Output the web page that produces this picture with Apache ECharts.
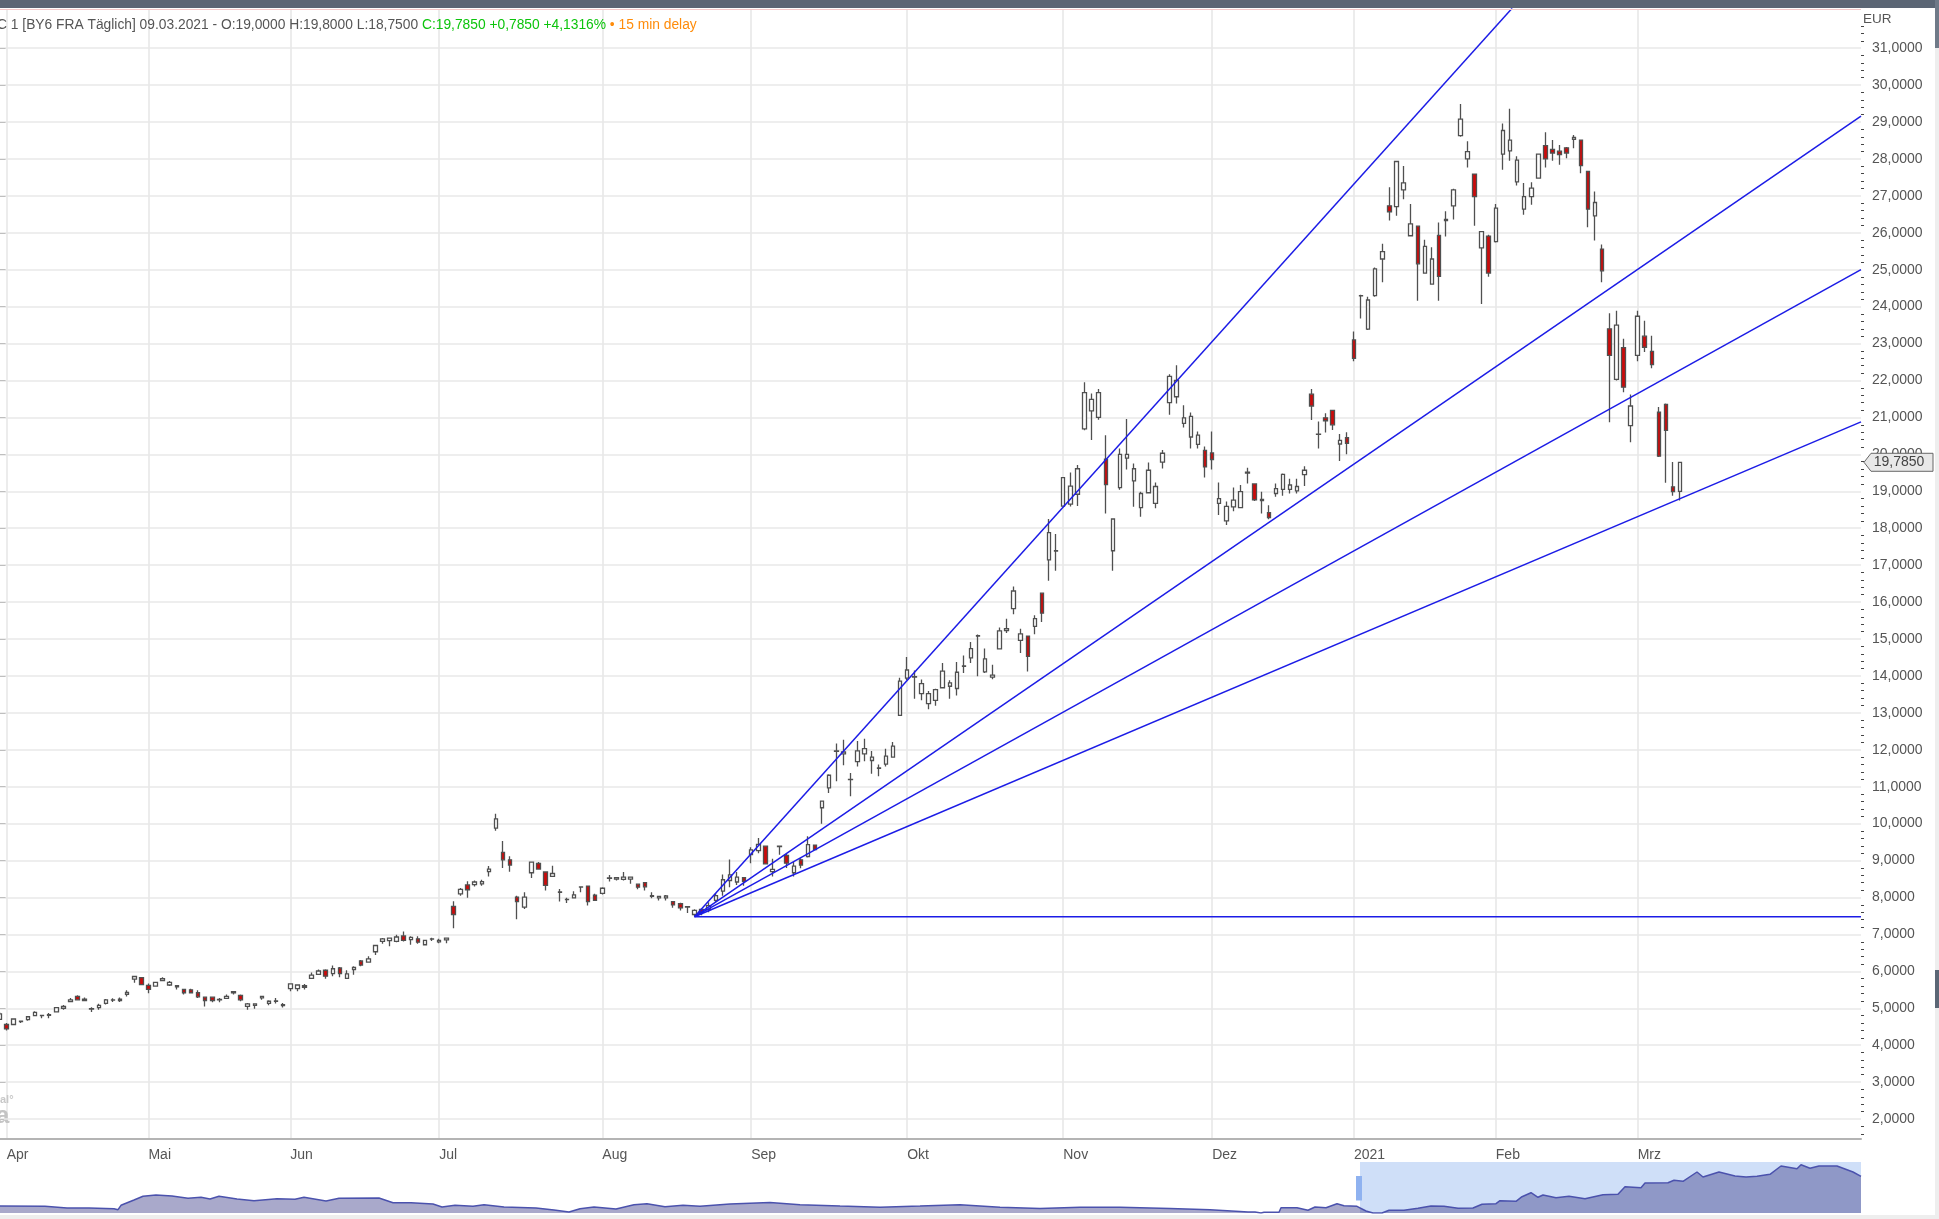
<!DOCTYPE html>
<html>
<head>
<meta charset="utf-8">
<title>BY6 FRA</title>
<script src="https://cdn.jsdelivr.net/npm/echarts@6/dist/echarts.min.js"></script>
<style>
html,body{margin:0;padding:0;background:#fff;}
#main{width:1939px;height:1219px;}
</style>
</head>
<body>
<div id="main"></div>
<script>
// daily candles, index 0 = 31.03.2020, last = 09.03.2021
var opens = [
4.70,4.56,4.56,4.64,4.69,4.80,4.80,4.81,4.90,5.00,
5.18,5.32,5.21,4.98,5.02,5.13,5.22,5.21,5.38,5.79,
5.83,5.62,5.60,5.75,5.63,5.58,5.51,5.50,5.42,5.30,
5.30,5.23,5.27,5.42,5.35,5.05,5.08,5.28,5.13,5.19,
5.07,5.53,5.53,5.57,5.81,5.92,6.03,5.94,6.09,5.81,
6.05,6.28,6.25,6.53,6.81,6.83,6.81,6.96,6.86,6.88,
6.72,6.87,6.80,6.85,7.76,8.10,8.34,8.35,8.37,8.70,
9.88,9.22,9.02,8.01,7.74,8.67,8.92,8.69,8.57,8.14,
7.94,7.99,8.28,8.31,8.06,8.11,8.52,8.50,8.49,8.50,
8.36,8.40,8.03,7.99,7.99,7.89,7.83,7.74,7.54,7.68,
7.67,7.92,8.17,8.46,8.42,8.54,9.16,9.27,9.39,8.70,
9.38,9.14,8.67,9.02,9.11,9.42,10.43,10.97,11.96,11.89,
11.19,11.68,11.89,11.71,11.50,11.61,11.80,12.93,13.94,13.97,
13.52,13.25,13.34,13.68,13.72,13.66,14.26,14.49,15.08,14.11,
13.97,14.73,15.23,15.82,14.96,15.08,15.34,16.24,17.14,17.38,
18.60,18.65,18.92,20.69,21.18,21.00,19.87,17.39,19.10,19.90,
19.28,18.56,18.96,18.67,19.79,21.40,21.56,20.84,20.47,20.27,
20.11,20.04,18.67,18.20,18.58,18.56,19.49,19.20,18.75,18.42,
18.94,19.05,19.05,19.01,19.45,21.63,20.54,20.99,21.19,20.28,
20.45,23.10,24.29,23.39,24.30,25.29,26.73,26.71,27.16,25.92,
26.18,24.91,24.61,25.93,26.33,26.73,28.63,28.00,27.59,25.59,
25.91,25.76,28.13,28.22,27.38,26.64,26.98,27.48,28.36,28.26,
28.21,28.30,28.53,28.51,27.66,26.46,25.56,23.40,22.03,22.89,
20.78,22.68,23.20,22.79,21.14,21.35,19.12,19.00];
var closes = [
4.85,4.44,4.71,4.65,4.77,4.89,4.81,4.83,5.02,5.05,
5.23,5.23,5.25,4.99,5.08,5.23,5.23,5.25,5.43,5.86,
5.64,5.51,5.70,5.80,5.70,5.61,5.42,5.42,5.31,5.21,
5.21,5.24,5.32,5.45,5.23,5.12,5.12,5.32,5.19,5.20,
5.10,5.66,5.63,5.61,5.90,6.01,5.87,6.07,5.94,5.93,
6.11,6.17,6.34,6.70,6.88,6.90,6.93,6.84,6.92,6.79,
6.84,6.88,6.84,6.90,7.54,8.22,8.21,8.42,8.43,8.77,
10.13,9.02,8.88,7.89,8.01,8.96,8.77,8.33,8.65,8.15,
7.95,8.07,8.29,7.89,7.92,8.25,8.53,8.54,8.55,8.55,
8.28,8.29,8.05,8.03,8.04,7.80,7.72,7.75,7.65,7.60,
7.78,8.05,8.48,8.61,8.55,8.44,9.29,9.44,8.91,8.76,
9.39,8.93,8.85,8.88,9.43,9.30,10.61,11.31,11.97,11.94,
11.20,11.97,12.03,11.80,11.51,11.83,12.10,13.86,14.16,13.98,
13.79,13.52,13.63,14.13,13.81,14.10,14.27,14.74,15.09,14.46,
14.02,15.22,15.28,16.30,15.14,14.53,15.55,15.70,17.88,17.39,
19.37,19.14,19.61,21.67,21.49,21.67,19.18,18.25,20.00,20.00,
19.61,18.94,19.57,19.13,20.03,22.11,22.00,20.99,21.03,20.52,
19.66,19.86,18.80,18.59,18.76,18.99,19.52,18.77,18.78,18.29,
19.07,19.46,19.17,19.13,19.57,21.31,20.55,20.91,20.80,20.38,
20.30,22.60,24.30,24.18,25.02,25.49,26.57,27.93,27.35,26.24,
25.16,25.63,25.29,24.82,26.36,27.16,29.08,28.20,26.98,26.03,
24.91,26.67,28.77,28.51,27.97,26.98,27.21,28.13,28.00,28.16,
28.12,28.16,28.58,27.82,26.64,26.82,24.97,22.68,23.50,21.82,
21.31,23.74,22.90,22.43,19.95,20.65,18.99,19.785];
var lows = [
4.68,4.40,4.56,4.60,4.66,4.80,4.73,4.73,4.90,4.96,
5.18,5.21,5.21,4.90,4.96,5.10,5.17,5.17,5.32,5.69,
5.64,5.41,5.60,5.75,5.60,5.51,5.37,5.40,5.28,5.05,
5.16,5.16,5.27,5.37,5.19,4.96,4.99,5.23,5.08,5.13,
5.02,5.46,5.46,5.51,5.81,5.92,5.80,5.87,5.84,5.81,
5.91,6.14,6.25,6.44,6.75,6.68,6.79,6.81,6.72,6.75,
6.70,6.82,6.76,6.76,7.17,8.05,7.99,8.30,8.32,8.57,
9.81,8.80,8.70,7.41,7.69,8.53,8.75,8.19,8.57,7.89,
7.85,7.99,8.14,7.78,7.92,8.08,8.43,8.46,8.46,8.37,
8.22,8.19,7.98,7.92,7.92,7.72,7.65,7.58,7.49,7.52,
7.60,7.88,8.05,8.28,8.34,8.32,8.93,9.20,8.91,8.57,
9.16,8.80,8.57,8.79,9.08,9.30,10.00,10.83,11.15,11.58,
10.74,11.55,11.69,11.35,11.28,11.55,11.80,12.93,13.88,13.38,
13.34,13.10,13.19,13.66,13.38,13.47,14.08,14.35,13.99,14.08,
13.91,14.73,15.16,15.67,14.62,14.12,15.13,15.46,16.58,16.85,
18.58,18.59,18.60,20.65,20.39,20.94,18.40,16.85,19.04,19.59,
18.58,18.31,18.94,18.54,19.62,21.07,21.38,20.73,20.16,20.16,
19.37,19.59,18.36,18.09,18.46,18.54,19.21,18.74,18.40,18.24,
18.85,18.88,18.94,18.94,19.14,20.93,20.16,20.59,20.66,19.82,
20.00,22.52,23.68,23.37,24.27,24.66,26.33,26.46,26.91,25.90,
24.16,24.89,24.59,24.16,25.90,26.36,28.60,27.77,26.19,24.07,
24.81,25.74,27.71,27.95,27.28,26.49,26.76,27.48,27.77,27.95,
27.84,28.02,28.29,27.61,26.15,25.79,24.66,20.87,22.00,21.68,
20.33,22.52,22.77,22.33,19.93,19.23,18.88,18.75];
var highs = [
4.90,4.60,4.71,4.65,4.77,4.92,4.81,4.87,5.02,5.09,
5.28,5.35,5.29,5.03,5.12,5.25,5.27,5.29,5.49,5.86,
5.85,5.67,5.70,5.84,5.74,5.61,5.53,5.53,5.49,5.32,
5.32,5.28,5.37,5.45,5.37,5.14,5.12,5.32,5.22,5.28,
5.14,5.66,5.65,5.66,5.97,6.05,6.06,6.16,6.12,6.03,
6.14,6.31,6.41,6.72,6.90,6.90,6.99,7.08,6.95,6.95,
6.84,6.91,6.88,6.90,7.90,8.26,8.44,8.46,8.48,8.85,
10.27,9.53,9.12,8.05,8.14,8.96,8.96,8.71,8.86,8.23,
7.99,8.17,8.29,8.31,8.10,8.28,8.61,8.54,8.69,8.57,
8.36,8.42,8.14,8.03,8.07,7.89,7.86,7.75,7.68,7.70,
7.87,8.12,8.62,9.03,8.69,8.54,9.36,9.61,9.39,9.05,
9.39,9.18,8.96,9.06,9.66,9.42,10.61,11.34,12.17,12.27,
11.37,12.24,12.30,11.97,11.60,12.03,12.21,13.95,14.51,14.15,
13.90,13.59,13.65,14.35,13.88,14.38,14.55,14.92,15.12,14.74,
14.30,15.31,15.55,16.42,15.28,15.08,15.64,16.26,18.25,17.84,
19.37,19.51,19.71,21.95,21.65,21.77,20.52,18.25,20.16,20.96,
19.75,18.99,19.78,19.24,20.12,22.17,22.41,21.33,21.13,20.62,
20.21,20.62,19.24,18.72,19.10,19.17,19.64,19.22,18.99,18.62,
19.21,19.48,19.34,19.34,19.68,21.77,20.89,21.11,21.19,20.55,
20.60,23.33,24.32,24.27,25.06,25.70,27.23,27.95,27.81,26.78,
26.20,25.81,25.61,26.28,26.58,27.19,29.49,28.48,27.60,26.05,
25.95,26.78,28.96,29.36,28.07,27.35,27.37,28.13,28.72,28.51,
28.38,28.32,28.65,28.51,27.67,27.12,25.68,23.82,23.89,23.13,
21.62,23.89,23.62,23.21,21.28,21.38,19.79,19.80];

// month ticks: candle index of the first session of each month
var monthIndex = [1,21,41,62,85,106,128,150,171,191,211,231];
var monthLabels = ['Apr','Mai','Jun','Jul','Aug','Sep','Okt','Nov','Dez','2021','Feb','Mrz'];
var priceTicks = [2,3,4,5,6,7,8,9,10,11,12,13,14,15,16,17,18,19,20,21,22,23,24,25,26,27,28,29,30,31];

// fan lines: start point, then where each line leaves the chart
var fanStart = [98,7.48];
var fanEnds = [[213.3,32.08],[262.5,29.16],[262.5,25.0],[262.5,20.88],[262.5,7.48]];

// overview strip at the bottom, full history
var navSession = [0,45,67,89,114,118,121,134,143,156,172,188,201,210,219,237,254,277,295,304,326,339,379,393,411,433,442,455,473,484,504,536,554,569,580,594,616,634,647,665,683,700,
730,770,800,840,880,920,960,1000,1040,1080,1120,1170,1210,1240,
1248,1255,1257,1261,1264,1279,1281,1297,1308,1315,1326,1337,1344,1357,1366,1373,1382,1389,1404,1418,1431,1444,1458,1473,1482,1496,1500,1516,1522,1531,1538,1543,1556,1569,1585,1603,1618,1625,1641,1645,1668,1674,1683,1697,1703,1719,1735,1746,1757,1770,1781,1797,1801,1810,1819,1837,1853,1861];
var navValue = [7,6.7,5,5,4.3,3.3,7.7,13,16.7,18,17,14.7,15.7,14,16.7,14,12.3,14.3,13.7,15.7,12,14.7,15,10.3,10.3,9,6,7.7,6.7,8.3,6,5,3,1,4.3,6,4,8.3,9.3,6.3,7.7,6.7,
9,10.5,8.3,7,5.8,7,8.3,5.8,4.6,5.8,5.8,4.6,3.3,1.5,
1,1,0,0,0.7,0.7,5.3,5.3,2.7,6,5.3,9.3,7.3,6.7,2,0,0,2.7,2.7,4.7,7,6.7,4.7,5,8.7,9.3,12.3,11.7,16.3,20.3,15.7,18,15.3,16.7,14.3,18.3,18.7,26.3,25.3,30,30.3,32.7,31.7,41,36,41,37,36,36.7,38.7,47,44.3,48.3,44.7,47,47,41,36.7];

var emptySessions = 25;
var fontName = '"Liberation Sans", sans-serif';

var categories = [];
for (var i = 0; i < opens.length + emptySessions; i++) categories.push(String(i));

var candles = [];
for (i = 0; i < opens.length; i++) candles.push([opens[i], closes[i], lows[i], highs[i]]);

var minorTicks = [];
for (i = 8; i <= 158; i++) {
  if (i % 5 != 0) minorTicks.push(i / 5);
}

var navLine = [];
for (i = 0; i < navSession.length; i++) navLine.push([navSession[i], navValue[i]]);

function isMonth(index) {
  return monthIndex.indexOf(index) >= 0;
}

function comma4(v) {
  return v.toFixed(4).replace('.', ',');
}

var series = [{
  type: 'candlestick',
  xAxisIndex: 0,
  yAxisIndex: 0,
  barWidth: 4,
  z: 3,
  itemStyle: {
    color: '#ffffff',
    color0: '#cc0a0a',
    borderColor: '#505050',
    borderColor0: '#505050',
    borderWidth: 1.3
  },
  data: candles,
  markLine: {
    silent: true,
    symbol: 'none',
    z: 1,
    animation: false,
    label: {show: false},
    lineStyle: {color: '#e9e9e9', width: 1.5, type: 'solid'},
    data: priceTicks.map(function (v) { return {yAxis: v}; })
  }
}];

fanEnds.forEach(function (end) {
  series.push({
    type: 'line',
    xAxisIndex: 1,
    yAxisIndex: 0,
    symbol: 'none',
    z: 4,
    lineStyle: {color: '#1c1ce6', width: 1.5},
    data: [fanStart, end]
  });
});

series.push({
  type: 'line',
  xAxisIndex: 2,
  yAxisIndex: 2,
  symbol: 'none',
  z: 2,
  lineStyle: {color: '#4b52ad', width: 1.5},
  areaStyle: {color: 'rgba(72,72,145,0.47)', opacity: 1, origin: 'start'},
  data: navLine,
  markArea: {
    silent: true,
    z: 1,
    animation: false,
    data: [
      [{xAxis: 1360, itemStyle: {color: '#cfdff8', opacity: 1}}, {xAxis: 1861}],
      [{xAxis: 1356, yAxis: 12.5, itemStyle: {color: '#8fb2f0', opacity: 1}}, {xAxis: 1362, yAxis: 37}]
    ]
  }
});

var option = {
  animation: false,
  backgroundColor: '#ffffff',
  textStyle: {fontFamily: fontName},
  grid: [
    {left: -4, right: 78, top: 9, bottom: 80, outerBoundsMode: 'none'},
    {left: 0, right: 78, top: 1162, height: 51, outerBoundsMode: 'none'}
  ],
  xAxis: [{
    type: 'category',
    gridIndex: 0,
    data: categories,
    axisLine: {lineStyle: {color: '#b4b4b4', width: 2}},
    axisTick: {
      alignWithLabel: true,
      length: 6,
      interval: function (index) { return isMonth(index); },
      lineStyle: {color: '#333333'}
    },
    axisLabel: {
      align: 'left',
      margin: 9,
      fontSize: 14,
      color: '#555555',
      interval: function (index) { return isMonth(index); },
      formatter: function (value, index) {
        return monthLabels[monthIndex.indexOf(index)] || '';
      }
    },
    splitLine: {
      show: true,
      alignWithLabel: true,
      interval: function (index) { return isMonth(index); },
      lineStyle: {color: '#e6e6e6', width: 1.5}
    }
  }, {
    type: 'value',
    gridIndex: 0,
    show: false,
    min: -0.5,
    max: 262.5
  }, {
    type: 'value',
    gridIndex: 1,
    show: false,
    min: 0,
    max: 1861
  }],
  yAxis: [{
    type: 'value',
    gridIndex: 0,
    position: 'right',
    min: 1.46,
    max: 32.06,
    axisLine: {show: true, lineStyle: {color: '#f3c9c9', width: 1}},
    axisTick: {show: true, customValues: priceTicks, length: 6, lineStyle: {color: '#444444'}},
    axisLabel: {
      customValues: priceTicks,
      margin: 11,
      fontSize: 14,
      color: '#555555',
      formatter: function (v) { return comma4(v); }
    },
    splitLine: {show: false}
  }, {
    // second axis in a grid always sits on the opposite side, so push it over to the right
    type: 'value',
    gridIndex: 0,
    position: 'left',
    offset: -1865,
    min: 1.46,
    max: 32.06,
    axisLine: {show: false},
    axisTick: {show: true, inside: true, customValues: minorTicks, length: 3, lineStyle: {color: '#444444'}},
    axisLabel: {show: false},
    splitLine: {show: false}
  }, {
    type: 'value',
    gridIndex: 1,
    show: false,
    min: 0,
    max: 51
  }],
  series: series,
  graphic: [
    {type: 'rect', z: 20, shape: {x: 0, y: 0, width: 1939, height: 8}, style: {fill: '#5b6675'}},
    {type: 'rect', z: 20, shape: {x: 0, y: 9, width: 1861, height: 1}, style: {fill: '#f3c9c9'}},
    {type: 'rect', z: 20, shape: {x: 1935, y: 8, width: 4, height: 1211}, style: {fill: '#eeeeee'}},
    {type: 'rect', z: 21, shape: {x: 1935, y: 0, width: 4, height: 48}, style: {fill: '#6f7a88'}},
    {type: 'rect', z: 21, shape: {x: 1935, y: 970, width: 4, height: 38}, style: {fill: '#5b6675'}},
    {type: 'rect', z: 20, shape: {x: 0, y: 1215, width: 1939, height: 4}, style: {fill: '#eeeeee'}},
    {type: 'text', z: 20, x: 1863, y: 12, style: {text: 'EUR', fill: '#555555', fontSize: 13.5, fontFamily: fontName}},
    {type: 'text', z: 20, x: -3, y: 18, style: {
      text: '{a|C 1 [BY6 FRA Täglich] 09.03.2021 - O:19,0000 H:19,8000 L:18,7500 }{b|C:19,7850 +0,7850 +4,1316% }{c|• 15 min delay}',
      rich: {
        a: {fill: '#555555', fontSize: 13.8, fontFamily: fontName},
        b: {fill: '#0cc40c', fontSize: 13.8, fontFamily: fontName},
        c: {fill: '#ff8c0a', fontSize: 13.8, fontFamily: fontName}
      }
    }},
    {type: 'text', z: 1, x: 0, y: 1094, style: {text: 'al°', fill: '#c8c8c8', fontSize: 11, fontWeight: 'bold', fontFamily: fontName}},
    {type: 'text', z: 1, x: -4, y: 1104, style: {text: 'a', fill: '#c4c4c4', fontSize: 24, fontWeight: 'bold', fontFamily: fontName}}
  ]
};

var chart = echarts.init(document.getElementById('main'));
chart.setOption(option);

// tag with the last price on the value axis
var lastClose = closes[closes.length - 1];
var tagY = chart.convertToPixel({yAxisIndex: 0}, lastClose);
chart.setOption({
  graphic: option.graphic.concat([
    {type: 'polygon', z: 22,
      shape: {points: [[1864, tagY], [1871, tagY - 9], [1933, tagY - 9], [1933, tagY + 9], [1871, tagY + 9]]},
      style: {fill: '#e8e8e8', stroke: '#666666', lineWidth: 1}},
    {type: 'text', z: 23, x: 1899, y: tagY, style: {
      text: comma4(lastClose), fill: '#444444', fontSize: 14, fontFamily: fontName,
      align: 'center', verticalAlign: 'middle'
    }}
  ])
});

window.onresize = function () {
  chart.resize();
};
</script>
</body>
</html>
